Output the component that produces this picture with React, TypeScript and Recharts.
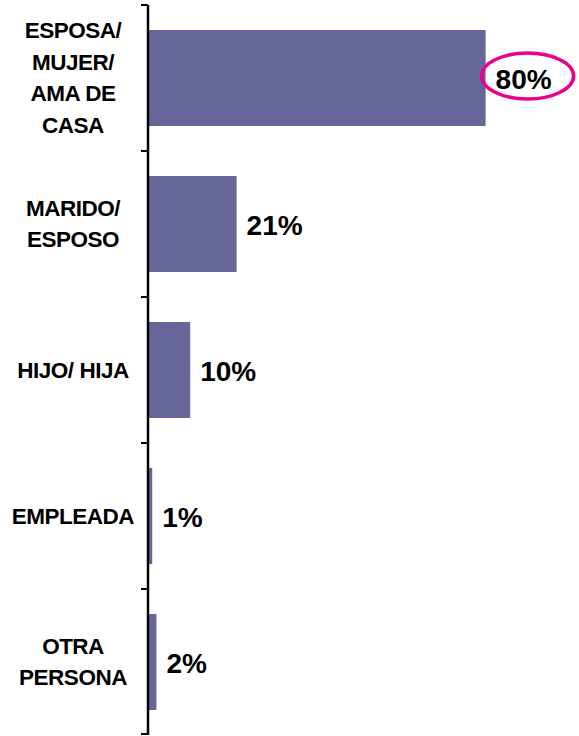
import { Bar, BarChart, LabelList, YAxis, XAxis } from 'recharts'

const categories = ['ESPOSA/\nMUJER/\nAMA DE\nCASA', 'MARIDO/\nESPOSO', 'HIJO/ HIJA', 'EMPLEADA', 'OTRA\nPERSONA']
const values = [80, 21, 10, 1, 2]

const rows = categories.map((name, i) => ({ name, value: values[i] }))

const FONT = '"Liberation Sans", Arial, sans-serif'
const CHART_H = 736
const MARGIN = { top: 5, right: 9, bottom: 1, left: 0 }
const BAND = (CHART_H - MARGIN.top - MARGIN.bottom) / categories.length
const AXIS_X = 148

function CategoryTick(props: any) {
  const { y, payload, index } = props
  const lines = String(payload.value).split('\n')
  const lh = 31.5
  const start = -((lines.length - 1) * lh) / 2
  const last = index === categories.length - 1
  return (
    <g>
      <line x1={AXIS_X - 7} x2={AXIS_X} y1={y - BAND / 2} y2={y - BAND / 2} stroke="#000" strokeWidth={2} />
      {last && <line x1={AXIS_X - 7} x2={AXIS_X} y1={y + BAND / 2 - 1} y2={y + BAND / 2 - 1} stroke="#000" strokeWidth={2} />}
      <text x={73} y={y} textAnchor="middle" fontFamily={FONT} fontWeight="bold" fontSize={22.5}
        letterSpacing={-0.5} fill="#000">
        {lines.map((l, i) => (
          <tspan key={i} x={73} y={y + start + i * lh} dominantBaseline="central">{l}</tspan>
        ))}
      </text>
    </g>
  )
}

function ValueLabel(props: any) {
  const { x, y, width, height, value, index } = props
  const tx = Number(x) + Number(width) + 10
  const cy = Number(y) + Number(height) / 2
  return (
    <g>
      <text x={tx} y={cy + 1} dominantBaseline="central" fontFamily={FONT} fontWeight="bold" fontSize={28} fill="#000">
        {value}%
      </text>
      {index === 0 && (
        <ellipse cx={tx + 32} cy={cy - 2} rx={46} ry={23} fill="none" stroke="#ec008c" strokeWidth={3.5} />
      )}
    </g>
  )
}

export default function App() {
  return (
    <div style={{ position: 'absolute', left: 0, top: 0, background: '#fff' }}>
      <BarChart width={579} height={CHART_H} data={rows} layout="vertical" margin={MARGIN} barSize={96}>
        <XAxis type="number" domain={[0, 100]} hide />
        <YAxis type="category" dataKey="name" width={AXIS_X}
          axisLine={{ stroke: '#000', strokeWidth: 2.5 }} tickLine={false} tick={<CategoryTick />} interval={0} />
        <Bar dataKey="value" fill="#666699" isAnimationActive={false}>
          <LabelList dataKey="value" content={<ValueLabel />} />
        </Bar>
      </BarChart>
    </div>
  )
}
